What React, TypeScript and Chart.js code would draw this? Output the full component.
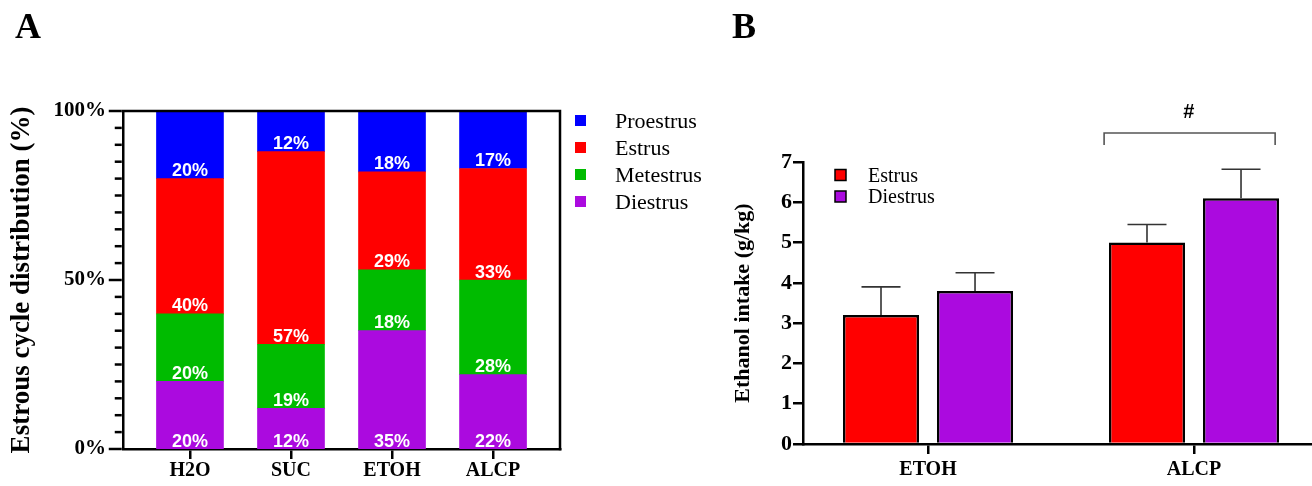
import React, { useEffect, useRef } from 'react';
import { Chart, registerables } from 'chart.js';
Chart.register(...registerables);

// ---------- Panel A data ----------
const categoriesA = ['H2O', 'SUC', 'ETOH', 'ALCP'];
const diestrusA = [20, 12, 35, 22];
const metestrusA = [20, 19, 18, 28];
const estrusA = [40, 57, 29, 33];
const proestrusA = [20, 12, 18, 17];
const legendA = ['Proestrus', 'Estrus', 'Metestrus', 'Diestrus'];

// ---------- Panel B data ----------
const categoriesB = ['ETOH', 'ALCP'];
const estrusB = [3.2, 5.0];
const estrusErrB = [0.7, 0.45];
const diestrusB = [3.8, 6.1];
const diestrusErrB = [0.45, 0.72];
const legendB = ['Estrus', 'Diestrus'];
const bracketX = [0.662, 1.305];
const bracketY = [7.42, 7.72];
const bracketMark = '#';
const bracketMarkPos = [0.98, 8.22];

const BLUE = '#0000FF';
const RED = '#FF0000';
const GREEN = '#00BB00';
const PURPLE = '#AB0ADF';
const SERIF = "'Liberation Serif', 'Times New Roman', serif";
const SANS = "'Liberation Sans', Arial, sans-serif";

const colorsA = [BLUE, RED, GREEN, PURPLE];

const pluginA = {
  id: 'pluginA',
  afterDatasetsDraw(chart: any) {
    const { ctx } = chart;
    ctx.save();
    ctx.fillStyle = '#fff';
    ctx.font = `bold 18px ${SANS}`;
    ctx.textAlign = 'center';
    ctx.textBaseline = 'alphabetic';
    chart.data.datasets.forEach((ds: any, di: number) => {
      const meta = chart.getDatasetMeta(di);
      meta.data.forEach((el: any, i: number) => {
        const v = ds.data[i].y;
        ctx.fillText(v + '%', el.x, el.base - 2.5);
      });
    });
    ctx.restore();
  },
  afterDraw(chart: any) {
    const { ctx, chartArea } = chart;
    const { left, right, top, bottom } = chartArea;
    const y = chart.scales.y;
    ctx.save();
    ctx.strokeStyle = '#000';
    ctx.lineWidth = 2.5;
    ctx.beginPath();
    ctx.moveTo(left - 1.25, top);
    ctx.lineTo(right, top);
    ctx.lineTo(right, bottom + 1.25);
    ctx.stroke();
    for (let v = 0; v <= 100; v += 5) {
      const py = y.getPixelForValue(v);
      const len = v % 50 === 0 ? 13 : 7;
      ctx.beginPath();
      ctx.moveTo(left - 1.25 - len, py);
      ctx.lineTo(left - 1.25, py);
      ctx.stroke();
    }
    // legend
    ctx.font = `22px ${SERIF}`;
    ctx.textAlign = 'left';
    ctx.textBaseline = 'alphabetic';
    legendA.forEach((name, i) => {
      const cy = 120.5 + i * 27;
      ctx.fillStyle = colorsA[i];
      ctx.fillRect(575, cy - 5.5, 11, 11);
      ctx.fillStyle = '#000';
      ctx.fillText(name, 615, cy + 7.3);
    });
    ctx.restore();
  },
};

const errB = [estrusErrB, diestrusErrB];

const pluginB = {
  id: 'pluginB',
  afterDatasetsDraw(chart: any) {
    const { ctx } = chart;
    const y = chart.scales.y;
    const x = chart.scales.x;
    ctx.save();
    ctx.strokeStyle = '#333';
    ctx.lineWidth = 1.6;
    chart.data.datasets.forEach((ds: any, di: number) => {
      const meta = chart.getDatasetMeta(di);
      meta.data.forEach((el: any, i: number) => {
        const v = ds.data[i].y;
        const top = y.getPixelForValue(v + errB[di][i]);
        ctx.beginPath();
        ctx.moveTo(el.x, el.y);
        ctx.lineTo(el.x, top);
        ctx.moveTo(el.x - 19.5, top);
        ctx.lineTo(el.x + 19.5, top);
        ctx.stroke();
      });
    });
    // bracket
    ctx.strokeStyle = '#555';
    ctx.lineWidth = 1.6;
    const x1 = x.getPixelForValue(bracketX[0]);
    const x2 = x.getPixelForValue(bracketX[1]);
    const yb = y.getPixelForValue(bracketY[1]);
    const yd = y.getPixelForValue(bracketY[0]);
    ctx.beginPath();
    ctx.moveTo(x1, yd);
    ctx.lineTo(x1, yb);
    ctx.lineTo(x2, yb);
    ctx.lineTo(x2, yd);
    ctx.stroke();
    ctx.fillStyle = '#000';
    ctx.font = `bold 20px ${SANS}`;
    ctx.textAlign = 'center';
    ctx.textBaseline = 'middle';
    ctx.fillText(bracketMark, x.getPixelForValue(bracketMarkPos[0]), y.getPixelForValue(bracketMarkPos[1]));
    // legend
    ctx.font = `20px ${SERIF}`;
    ctx.textAlign = 'left';
    ctx.textBaseline = 'alphabetic';
    const cols = [RED, PURPLE];
    legendB.forEach((name, i) => {
      const cy = 175 + i * 21.5;
      ctx.fillStyle = cols[i];
      ctx.fillRect(115, cy - 5.5, 11, 11);
      ctx.strokeStyle = '#000';
      ctx.lineWidth = 1.5;
      ctx.strokeRect(115, cy - 5.5, 11, 11);
      ctx.fillStyle = '#000';
      ctx.fillText(name, 148, cy + 6.6);
    });
    ctx.restore();
  },
};

function ChartA() {
  const ref = useRef<HTMLCanvasElement>(null);
  useEffect(() => {
    const toXY = (arr: number[]) => arr.map((v, i) => ({ x: i, y: v }));
    const chart = new Chart(ref.current as HTMLCanvasElement, {
      type: 'bar',
      data: {
        datasets: [
          { label: 'Diestrus', data: toXY(diestrusA), backgroundColor: PURPLE, borderWidth: 0 },
          { label: 'Metestrus', data: toXY(metestrusA), backgroundColor: GREEN, borderWidth: 0 },
          { label: 'Estrus', data: toXY(estrusA), backgroundColor: RED, borderWidth: 0 },
          { label: 'Proestrus', data: toXY(proestrusA), backgroundColor: BLUE, borderWidth: 0 },
        ] as any,
      },
      options: {
        responsive: false,
        animation: false,
        events: [],
        layout: { padding: { left: 0, top: 111, right: 160, bottom: 0 } },
        datasets: { bar: { barThickness: 67 } } as any,
        plugins: { legend: { display: false }, tooltip: { enabled: false } },
        scales: {
          x: {
            type: 'linear',
            stacked: true,
            offset: false,
            min: -0.663,
            max: 3.663,
            afterBuildTicks: (s: any) => {
              s.ticks = categoriesA.map((_, i) => ({ value: i }));
            },
            afterFit: (s: any) => {
              s.height = 37;
            },
            ticks: {
              autoSkip: false,
              padding: 0,
              color: '#000',
              font: { family: SERIF, size: 20, weight: 'bold' },
              callback: (v: any) => categoriesA[v] ?? '',
            },
            grid: { display: true, offset: false, drawOnChartArea: false, drawTicks: true, tickLength: 10, lineWidth: 2.5, color: '#000' },
            border: { display: true, color: '#000', width: 2.5 },
          },
          y: {
            stacked: true,
            min: 0,
            max: 100,
            afterFit: (s: any) => {
              s.width = 123;
            },
            ticks: {
              stepSize: 50,
              padding: 17,
              color: '#000',
              font: { family: SERIF, size: 21, weight: 'bold' },
              callback: (v: any) => v + '%',
            },
            grid: { display: false, drawTicks: false },
            border: { display: true, color: '#000', width: 2.5 },
            title: {
              display: true,
              text: 'Estrous cycle distribution (%)',
              color: '#000',
              font: { family: SERIF, size: 27, weight: 'bold' },
              padding: { top: 6, bottom: 0 },
            },
          },
        } as any,
      },
      plugins: [pluginA],
    });
    return () => chart.destroy();
  }, []);
  return <canvas ref={ref} width={720} height={486} style={{ position: 'absolute', left: 0, top: 0 }} />;
}

function ChartB() {
  const ref = useRef<HTMLCanvasElement>(null);
  useEffect(() => {
    const toXY = (arr: number[]) => arr.map((v, i) => ({ x: i, y: v }));
    const chart = new Chart(ref.current as HTMLCanvasElement, {
      type: 'bar',
      data: {
        datasets: [
          { label: 'Estrus', data: toXY(estrusB), backgroundColor: RED, borderColor: '#000', borderWidth: 2.5 },
          { label: 'Diestrus', data: toXY(diestrusB), backgroundColor: PURPLE, borderColor: '#000', borderWidth: 2.5 },
        ] as any,
      },
      options: {
        responsive: false,
        animation: false,
        events: [],
        layout: { padding: { left: 0, top: 162, right: 0, bottom: 0 } },
        datasets: { bar: { categoryPercentage: 0.707, barPercentage: 0.809 } } as any,
        plugins: { legend: { display: false }, tooltip: { enabled: false } },
        scales: {
          x: {
            type: 'linear',
            offset: false,
            min: -0.47,
            max: 1.4436,
            afterBuildTicks: (s: any) => {
              s.ticks = categoriesB.map((_, i) => ({ value: i }));
            },
            afterFit: (s: any) => {
              s.height = 42;
            },
            ticks: {
              autoSkip: false,
              padding: 4,
              color: '#000',
              font: { family: SERIF, size: 20, weight: 'bold' },
              callback: (v: any) => categoriesB[v] ?? '',
            },
            grid: { display: true, offset: false, drawOnChartArea: false, drawTicks: true, tickLength: 10, lineWidth: 2.5, color: '#000' },
            border: { display: true, color: '#000', width: 2.5 },
          },
          y: {
            min: 0,
            max: 7,
            afterFit: (s: any) => {
              s.width = 83;
            },
            ticks: {
              stepSize: 1,
              padding: 1,
              color: '#000',
              font: { family: SERIF, size: 22, weight: 'bold' },
            },
            grid: { display: true, drawOnChartArea: false, drawTicks: true, tickLength: 10, lineWidth: 2.5, color: '#000' },
            border: { display: true, color: '#000', width: 2.5 },
            title: {
              display: true,
              text: 'Ethanol intake (g/kg)',
              color: '#000',
              font: { family: SERIF, size: 22, weight: 'bold' },
              padding: { top: 10, bottom: 0 },
            },
          },
        } as any,
      },
      plugins: [pluginB],
    });
    return () => chart.destroy();
  }, []);
  return <canvas ref={ref} width={592} height={486} style={{ position: 'absolute', left: 720, top: 0 }} />;
}

export default function App() {
  const letter: React.CSSProperties = {
    position: 'absolute',
    top: 8,
    fontFamily: SERIF,
    fontWeight: 'bold',
    fontSize: 36,
    lineHeight: '36px',
    color: '#000',
  };
  return (
    <div style={{ position: 'absolute', left: 0, top: 0, width: 1312, height: 486, background: '#fff', overflow: 'hidden' }}>
      <ChartA />
      <ChartB />
      <div style={{ ...letter, left: 15 }}>A</div>
      <div style={{ ...letter, left: 732 }}>B</div>
    </div>
  );
}
